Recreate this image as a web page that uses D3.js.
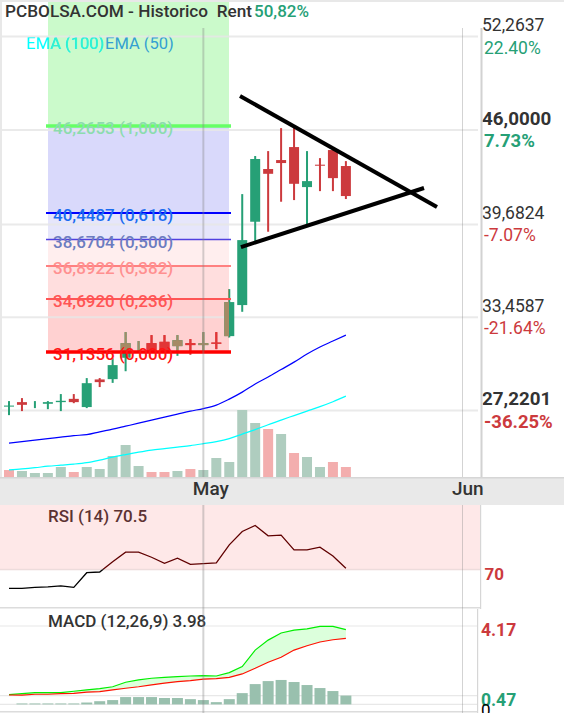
<!DOCTYPE html>
<html>
<head>
<meta charset="utf-8">
<script src="https://cdn.jsdelivr.net/npm/d3@7"></script>
<style>
	html, body { margin: 0; padding: 0; background: #fff; overflow: hidden; }
	text { font-family: Roboto, sans-serif; }
	.domain { display: none; }
</style>
</head>
<body>
<div id="chart"></div>
<script>
// ohlc, one row per session
var opens = [27.48, 27.78, 27.50, 27.67, 27.78, 28.00, 27.45, 29.30, 29.32, 30.75, 31.13, 31.73, 31.82, 31.53, 31.73, 31.60, 31.77, 32.20, 34.28, 39.86, 43.39, 43.99, 44.86, 42.18, 43.68, 44.66, 43.59];
var highs = [27.85, 28.05, 27.85, 27.85, 28.32, 28.32, 29.39, 29.39, 30.73, 32.47, 31.87, 32.27, 32.27, 32.27, 32.00, 32.47, 32.47, 35.35, 41.71, 44.26, 44.59, 46.13, 46.20, 44.59, 44.12, 44.66, 43.92];
var lows = [26.91, 27.18, 27.38, 27.31, 27.18, 27.71, 27.38, 28.79, 29.07, 29.85, 31.13, 31.13, 31.13, 30.88, 30.95, 31.13, 31.33, 32.11, 33.83, 38.57, 39.19, 41.20, 41.31, 39.64, 41.91, 41.91, 41.38];
var closes = [27.55, 27.60, 27.50, 27.78, 27.87, 27.78, 29.05, 29.12, 30.26, 31.73, 31.13, 31.13, 31.13, 31.93, 31.60, 31.73, 31.69, 34.48, 38.63, 44.06, 43.07, 43.79, 42.40, 42.58, 43.61, 42.78, 41.58];

var ema50 = [25.04, 25.14, 25.24, 25.34, 25.44, 25.54, 25.60, 25.79, 25.97, 26.17, 26.37, 26.58, 26.78, 26.98, 27.18, 27.35, 27.58, 27.98, 28.45, 28.99, 29.46, 29.96, 30.46, 31.00, 31.47, 31.87, 32.27];
var ema100 = [23.25, 23.31, 23.39, 23.49, 23.56, 23.63, 23.73, 23.90, 24.10, 24.27, 24.43, 24.57, 24.67, 24.77, 24.87, 25.00, 25.14, 25.34, 25.64, 25.94, 26.27, 26.58, 26.88, 27.18, 27.48, 27.81, 28.18];

var volumes = [7, 6, 4, 4, 10, 5, 10, 8, 21, 32, 11, 5, 5, 6, 8, 7, 19, 15, 67, 54, 48, 43, 24, 20, 10, 15, 10];
var volumeDown = [1, 0, 0, 0, 0, 1, 0, 0, 0, 0, 0, 1, 1, 0, 1, 0, 0, 0, 0, 0, 1, 0, 1, 0, 0, 1, 1];

var rsi = [61.1, 61.1, 61.56, 61.84, 62.31, 61.56, 68.41, 68.73, 73.56, 77.97, 77.97, 75.63, 72.81, 75.16, 72.34, 72.63, 72.95, 81.39, 87.63, 90.44, 85.61, 85.94, 79.05, 79.05, 80.31, 76.24, 70.5];
var macdLine = [0.52, 0.57, 0.63, 0.63, 0.63, 0.70, 0.77, 0.84, 0.94, 1.18, 1.30, 1.39, 1.44, 1.48, 1.51, 1.53, 1.51, 1.69, 2.01, 2.89, 3.42, 3.80, 3.95, 4.02, 4.15, 4.15, 3.98];
var signalLine = [0.50, 0.49, 0.54, 0.54, 0.57, 0.59, 0.65, 0.68, 0.77, 0.86, 0.94, 1.04, 1.13, 1.21, 1.26, 1.34, 1.37, 1.44, 1.62, 1.92, 2.24, 2.51, 2.89, 3.12, 3.32, 3.44, 3.51];
var macdHist = [0, 0.05, 0.05, 0.05, 0.05, 0.05, 0.10, 0.17, 0.23, 0.39, 0.39, 0.39, 0.34, 0.34, 0.28, 0.23, 0.12, 0.28, 0.60, 1.08, 1.24, 1.30, 1.19, 1.03, 0.87, 0.71, 0.47];

var priceTicks = [52.2637, 46.0, 39.6824, 33.4587, 27.2201];
var priceLabels = ['52,2637', '46,0000', '39,6824', '33,4587', '27,2201'];
var pctLabels = ['22.40%', '7.73%', '-7.07%', '-21.64%', '-36.25%'];
var boldTicks = [false, true, false, false, true];

var fibPrices = [46.2653, 40.4487, 38.6704, 36.8922, 34.6920, 31.1356];
var fibLabels = ['46,2653 (1,000)', '40,4487 (0,618)', '38,6704 (0,500)', '36,8922 (0,382)', '34,6920 (0,236)', '31,1356 (0,000)'];

var monthIndex = [15, 35];
var monthLabels = ['May', 'Jun'];

// hand drawn triangle, [session, price] at both ends
var trendDown = [[17.83, 48.28], [33.03, 40.84]];
var trendUp = [[17.9, 38.16], [32.03, 42.12]];

// colors
var green = '#26a076';
var red = '#cc3a3d';
var fibLine = ['#66ff66', '#0000ff', '#5040e0', '#ff8080', '#ff5555', '#ff0000'];
var fibWidth = [3.5, 2, 1.5, 2, 2, 3.5];
var fibText = ['#8cdcae', '#1a6cf0', '#6c7cc0', '#ff9090', '#ff5555', '#ff1414'];
var fibFill = ['#cbfacb', '#d9d9fb', '#e6e6fb', '#ffeeee', '#ffdede', '#ffd1d1'];

var width = 564;
var height = 713;

var svg = d3.select('#chart').append('svg')
	.attr('width', width)
	.attr('height', height)
	.style('display', 'block');

var x = d3.scaleLinear().domain([0, 35]).range([9, 462.5]);
var y = d3.scaleLinear().domain([27.2201, 52.2637]).range([410.5, 36.5]);
var yVol = d3.scaleLinear().domain([0, 67]).range([477, 410]);
var yRsi = d3.scaleLinear().domain([70, 100]).range([569.3, 505]);
var yMacd = d3.scaleLinear().domain([0, 4.17]).range([704.4, 626]);
var sessions = d3.range(opens.length);

var defs = svg.append('defs');
defs.append('clipPath').attr('id', 'fib-zone').append('rect')
	.attr('x', 48).attr('y', 2).attr('width', 181).attr('height', y(fibPrices[5]) - 2);
defs.append('clipPath').attr('id', 'rsi-high').append('rect')
	.attr('x', 0).attr('y', 505).attr('width', 481).attr('height', yRsi(70) - 505);
defs.append('clipPath').attr('id', 'rsi-low').append('rect')
	.attr('x', 0).attr('y', yRsi(70)).attr('width', 481).attr('height', 40);
defs.append('clipPath').attr('id', 'rsi-tick').append('rect')
	.attr('x', 482).attr('y', 600).attr('width', 40).attr('height', 9.5);

// frame
svg.append('rect').attr('x', 0).attr('y', 0).attr('width', width).attr('height', 2).attr('fill', '#e8e8e8');
svg.append('rect').attr('x', 0).attr('y', 0).attr('width', 2).attr('height', 477).attr('fill', '#e8e8e8');

// fib zones
var fibTops = [2].concat(fibPrices.slice(0, 5).map(function(d) { return y(d); }));
svg.append('g').selectAll('rect').data(fibPrices).join('rect')
	.attr('x', 48)
	.attr('width', 181)
	.attr('y', function(d, i) { return fibTops[i]; })
	.attr('height', function(d, i) { return y(d) - fibTops[i]; })
	.attr('fill', function(d, i) { return fibFill[i]; });

// EMA legend, the cyan one turns greener over the top zone
svg.append('text').attr('x', 26).attr('y', 49).attr('font-size', 16.5).attr('fill', '#00ffff').text('EMA (100)');
svg.append('text').attr('x', 26).attr('y', 49).attr('font-size', 16.5).attr('fill', '#30f0d0').attr('clip-path', 'url(#fib-zone)').text('EMA (100)');
svg.append('text').attr('x', 105).attr('y', 49).attr('font-size', 16.5).attr('fill', '#339fd2').text('EMA (50)');

// price grid + labels
var priceAxis = d3.axisRight(y)
	.tickValues(priceTicks)
	.tickSize(0)
	.tickFormat(function(d, i) { return priceLabels[i]; });
var gPrice = svg.append('g').attr('transform', 'translate(482, 0)').call(priceAxis);
gPrice.selectAll('text')
	.attr('x', 0)
	.attr('dy', -6)
	.attr('font-size', function(d, i) { return boldTicks[i] ? 18.8 : 17.5; })
	.attr('font-weight', function(d, i) { return boldTicks[i] ? 700 : 400; })
	.attr('fill', '#333');
gPrice.selectAll('.tick').append('text')
	.attr('x', 2)
	.attr('dy', 16.5)
	.attr('font-size', function(d, i) { return boldTicks[i] ? 18.5 : 17.5; })
	.attr('font-weight', function(d, i) { return boldTicks[i] ? 700 : 400; })
	.attr('fill', function(d, i) { return pctLabels[i][0] == '-' ? red : green; })
	.text(function(d, i) { return pctLabels[i]; });

svg.append('g').selectAll('line').data(priceTicks).join('line')
	.attr('x1', 2).attr('x2', 478)
	.attr('y1', function(d) { return y(d); })
	.attr('y2', function(d) { return y(d); })
	.attr('stroke', '#e6e6e6')
	.attr('stroke-opacity', 0.85)
	.attr('stroke-width', 2);

// volume
svg.append('g').selectAll('rect').data(sessions).join('rect')
	.attr('x', function(i) { return x(i) - 5; })
	.attr('width', 10)
	.attr('y', function(i) { return yVol(volumes[i]); })
	.attr('height', function(i) { return 477 - yVol(volumes[i]); })
	.attr('fill', function(i) { return volumeDown[i] ? '#f3aeae' : '#afcdbf'; });

// moving averages
var emaPath = d3.line().x(function(d, i) { return x(i); }).y(function(d) { return y(d); }).curve(d3.curveMonotoneX);
svg.append('path').attr('d', emaPath(ema100)).attr('fill', 'none').attr('stroke', '#00ffff').attr('stroke-width', 1.2);
svg.append('path').attr('d', emaPath(ema50)).attr('fill', 'none').attr('stroke', '#0000ff').attr('stroke-width', 1.2);

// candles
function drawCandles(parent, upColor, downColor) {
	var c = parent.selectAll('g').data(sessions).join('g')
		.attr('fill', function(i) { return closes[i] >= opens[i] ? upColor : downColor; });
	c.append('rect')
		.attr('x', function(i) { return x(i) - 1; })
		.attr('width', 2)
		.attr('y', function(i) { return y(highs[i]); })
		.attr('height', function(i) { return y(lows[i]) - y(highs[i]); });
	c.append('rect')
		.attr('x', function(i) { return x(i) - 5; })
		.attr('width', 10)
		.attr('y', function(i) { return y(Math.max(opens[i], closes[i])); })
		.attr('height', function(i) { return Math.abs(y(opens[i]) - y(closes[i])); });
}
drawCandles(svg.append('g'), green, red);
drawCandles(svg.append('g').attr('clip-path', 'url(#fib-zone)'), '#a58a64', '#e23636');

// fib lines and labels
svg.append('g').selectAll('line').data(fibPrices).join('line')
	.attr('x1', 46).attr('x2', 231)
	.attr('y1', function(d) { return y(d); })
	.attr('y2', function(d) { return y(d); })
	.attr('stroke', function(d, i) { return fibLine[i]; })
	.attr('stroke-width', function(d, i) { return fibWidth[i]; });
svg.append('g').selectAll('text').data(fibPrices).join('text')
	.attr('x', 53)
	.attr('y', function(d) { return y(d) + 8; })
	.attr('font-size', 17)
	.attr('font-weight', 500)
	.attr('fill', function(d, i) { return fibText[i]; })
	.text(function(d, i) { return fibLabels[i]; });

// triangle
[trendDown, trendUp].forEach(function(t) {
	svg.append('line')
		.attr('x1', x(t[0][0])).attr('y1', y(t[0][1]))
		.attr('x2', x(t[1][0])).attr('y2', y(t[1][1]))
		.attr('stroke', '#000')
		.attr('stroke-width', 4);
});

// month band
svg.append('rect').attr('x', 0).attr('y', 477).attr('width', width).attr('height', 28).attr('fill', '#e9e9e9');
svg.append('rect').attr('x', 0).attr('y', 477).attr('width', width).attr('height', 1.5).attr('fill', '#d6d6d6');

// rsi panel
svg.append('rect').attr('x', 0).attr('y', 505).attr('width', 480).attr('height', yRsi(70) - 505).attr('fill', '#fee8e8');
svg.append('rect').attr('x', 0).attr('y', yRsi(70) - 0.5).attr('width', 480).attr('height', 1.5).attr('fill', '#eddcdc');
svg.append('rect').attr('x', 0).attr('y', 607).attr('width', 480).attr('height', 1.5).attr('fill', '#dcdcdc');
svg.append('rect').attr('x', 480).attr('y', 505).attr('width', 1.2).attr('height', 104).attr('fill', '#d6d6d6');

var rsiPath = d3.line().x(function(d, i) { return x(i); }).y(function(d) { return yRsi(d); });
svg.append('path').attr('d', rsiPath(rsi)).attr('fill', 'none').attr('stroke', '#600000').attr('stroke-width', 1.3).attr('clip-path', 'url(#rsi-high)');
svg.append('path').attr('d', rsiPath(rsi)).attr('fill', 'none').attr('stroke', '#000').attr('stroke-width', 1.3).attr('clip-path', 'url(#rsi-low)');

svg.append('text').attr('x', 48).attr('y', 522).attr('font-size', 17).attr('font-weight', 500).attr('fill', '#5c3232').text('RSI (14) 70.5');
svg.append('text').attr('x', 484.5).attr('y', 580).attr('font-size', 17).attr('font-weight', 700).attr('fill', red).text('70');
svg.append('text').attr('x', 485).attr('y', 622).attr('font-size', 17).attr('font-weight', 700).attr('fill', '#999').attr('clip-path', 'url(#rsi-tick)').text('50');

// macd panel
svg.append('g').selectAll('line').data([4.17, 0.47, 0]).join('line')
	.attr('x1', 0).attr('x2', 477)
	.attr('y1', function(d) { return yMacd(d); })
	.attr('y2', function(d) { return yMacd(d); })
	.attr('stroke', '#e8e8e8')
	.attr('stroke-width', 1.2);
svg.append('rect').attr('x', 0).attr('y', 711).attr('width', 477).attr('height', 1.5).attr('fill', '#dcdcdc');
svg.append('rect').attr('x', 477).attr('y', 609).attr('width', 1.2).attr('height', 104).attr('fill', '#d6d6d6');

svg.append('g').selectAll('rect').data(sessions).join('rect')
	.attr('x', function(i) { return x(i) - 5.5; })
	.attr('width', 11)
	.attr('y', function(i) { return yMacd(macdHist[i]); })
	.attr('height', function(i) { return yMacd(0) - yMacd(macdHist[i]); })
	.attr('fill', '#99c0ae');

var macdArea = d3.area()
	.x(function(i) { return x(i); })
	.y0(function(i) { return yMacd(signalLine[i]); })
	.y1(function(i) { return yMacd(macdLine[i]); });
svg.append('path').attr('d', macdArea(sessions)).attr('fill', '#dcffdc');

var macdPath = d3.line().x(function(d, i) { return x(i); }).y(function(d) { return yMacd(d); });
svg.append('path').attr('d', macdPath(macdLine)).attr('fill', 'none').attr('stroke', '#00ee00').attr('stroke-width', 1.2);
svg.append('path').attr('d', macdPath(signalLine)).attr('fill', 'none').attr('stroke', '#ff1000').attr('stroke-width', 1.2);

svg.append('text').attr('x', 48).attr('y', 627).attr('font-size', 17).attr('font-weight', 500).attr('fill', '#333').text('MACD (12,26,9) 3.98');
svg.append('text').attr('x', 481).attr('y', 636).attr('font-size', 17.5).attr('font-weight', 700).attr('fill', red).text('4.17');
svg.append('text').attr('x', 481).attr('y', 706).attr('font-size', 17.5).attr('font-weight', 700).attr('fill', green).text('0.47');
svg.append('text').attr('x', 481).attr('y', 716).attr('font-size', 17).attr('font-weight', 400).attr('fill', '#000').text('0');

// month lines + labels, drawn over all panels
var monthAxis = d3.axisBottom(x)
	.tickValues(monthIndex)
	.tickSize(0)
	.tickFormat(function(d, i) { return monthLabels[i]; });
var gMonth = svg.append('g').attr('transform', 'translate(0, 478)').call(monthAxis);
gMonth.selectAll('text')
	.attr('y', 3)
	.attr('dx', -11)
	.attr('text-anchor', 'start')
	.attr('font-size', 19)
	.attr('font-weight', 500)
	.attr('fill', '#333');

svg.append('g').selectAll('line').data(monthIndex).join('line')
	.attr('x1', function(d) { return x(d); })
	.attr('x2', function(d) { return x(d); })
	.attr('y1', 28)
	.attr('y2', 477)
	.attr('stroke', '#808080')
	.attr('stroke-opacity', 0.35)
	.attr('stroke-width', function(d, i) { return i == 0 ? 2 : 1; });
svg.append('g').selectAll('line').data(monthIndex).join('line')
	.attr('x1', function(d) { return x(d); })
	.attr('x2', function(d) { return x(d); })
	.attr('y1', 505)
	.attr('y2', height)
	.attr('stroke', '#808080')
	.attr('stroke-opacity', 0.35)
	.attr('stroke-width', function(d, i) { return i == 0 ? 2 : 1; });

// right border of price panel
svg.append('rect').attr('x', 480.5).attr('y', 28).attr('width', 2).attr('height', 449).attr('fill', '#d2d2d2');

// title
svg.append('text').attr('x', 5).attr('y', 17).attr('font-size', 17.2).attr('font-weight', 500).attr('fill', '#333').style('white-space', 'pre').text('PCBOLSA.COM - Historico  Rent');
svg.append('text').attr('x', 254).attr('y', 17).attr('font-size', 17).attr('font-weight', 500).attr('fill', green).text('50,82%');
</script>
</body>
</html>
